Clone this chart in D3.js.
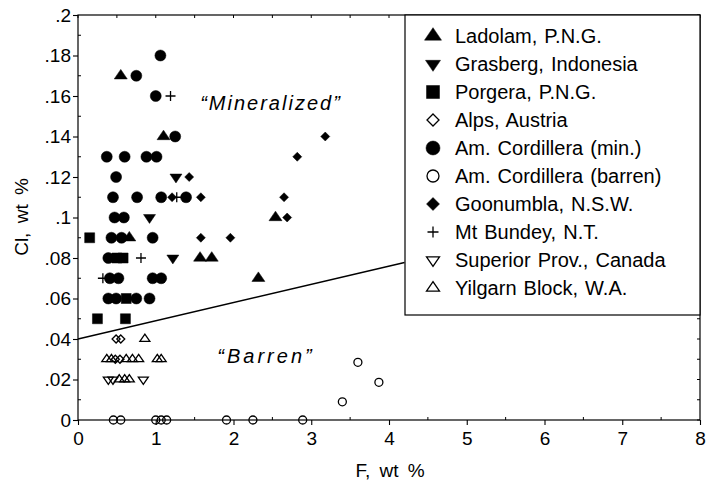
<!DOCTYPE html>
<html>
<head>
<meta charset="utf-8">
<script src="https://cdn.jsdelivr.net/npm/d3@7"></script>
<style>
  html, body { margin: 0; padding: 0; background: #fff; }
  svg { display: block; font-family: "Liberation Sans", Arial, Helvetica, sans-serif; }
</style>
</head>
<body>
<svg id="chart" width="706" height="485"></svg>
<script>
// F and Cl (wt %) of apatite, one array of [F, Cl] pairs per locality
const ladolam   = [[0.55,0.17],[1.10,0.14],[0.66,0.09],[2.54,0.10],[1.57,0.08],[1.72,0.08],[2.32,0.07]];
const grasberg  = [[1.26,0.12],[0.92,0.10],[1.22,0.08]];
const porgera   = [[0.15,0.09],[0.25,0.05],[0.61,0.05],[0.50,0.08],[0.58,0.08],[0.62,0.06]];
const alps      = [[0.49,0.04],[0.55,0.04],[0.48,0.03],[0.54,0.03]];
const amCordMin = [[1.06,0.18],[0.75,0.17],[1.00,0.16],[1.25,0.14],
                   [0.37,0.13],[0.60,0.13],[0.88,0.13],[1.01,0.13],
                   [0.49,0.12],
                   [0.45,0.11],[0.76,0.11],[1.07,0.11],[1.39,0.11],
                   [0.47,0.10],[0.59,0.10],
                   [0.43,0.09],[0.56,0.09],[0.96,0.09],
                   [0.39,0.08],
                   [0.41,0.07],[0.52,0.07],[0.96,0.07],[1.07,0.07],
                   [0.39,0.06],[0.49,0.06],[0.75,0.06],[0.92,0.06]];
const amCordBarren = [[0.455,0],[0.55,0],[1.00,0],[1.07,0],[1.14,0],[1.91,0],[2.25,0],[2.89,0],
                      [3.40,0.009],[3.60,0.0285],[3.87,0.0186]];
const goonumbla = [[3.18,0.14],[2.82,0.13],[1.43,0.12],[1.21,0.11],[1.58,0.11],[2.65,0.11],
                   [2.69,0.10],[1.58,0.09],[1.96,0.09]];
const mtBundey  = [[1.19,0.16],[1.27,0.11],[0.81,0.08],[0.32,0.07]];
const superior  = [[0.39,0.02],[0.45,0.02],[0.84,0.02]];
const yilgarn   = [[0.86,0.04],[0.37,0.03],[0.43,0.03],[0.62,0.03],[0.70,0.03],[0.78,0.03],
                   [1.02,0.03],[1.07,0.03],[0.53,0.02],[0.60,0.02],[0.66,0.02]];

// dividing line between mineralized and barren fields
const boundary = [[0, 0.04], [4.2, 0.0778]];

const xTicks = [0, 1, 2, 3, 4, 5, 6, 7, 8];
const yTicks = [0, 0.02, 0.04, 0.06, 0.08, 0.1, 0.12, 0.14, 0.16, 0.18, 0.2];
const yTickLabels = ["0", ".02", ".04", ".06", ".08", ".1", ".12", ".14", ".16", ".18", ".2"];

const seriesNames = ["Ladolam, P.N.G.", "Grasberg, Indonesia", "Porgera, P.N.G.", "Alps, Austria",
  "Am. Cordillera (min.)", "Am. Cordillera (barren)", "Goonumbla, N.S.W.", "Mt Bundey, N.T.",
  "Superior Prov., Canada", "Yilgarn Block, W.A."];

// ---- symbol types for d3.symbol (size = span in px, squared) ----
const triUp = { draw(c, s) { const r = Math.sqrt(s) / 2, h = r * 1.73 * 0.85;
  c.moveTo(0, -h * 2 / 3); c.lineTo(r, h / 3); c.lineTo(-r, h / 3); c.closePath(); } };
const triDown = { draw(c, s) { const r = Math.sqrt(s) / 2, h = r * 1.73 * 0.85;
  c.moveTo(0, h * 2 / 3); c.lineTo(r, -h / 3); c.lineTo(-r, -h / 3); c.closePath(); } };
const square = { draw(c, s) { const r = Math.sqrt(s) / 2; c.rect(-r, -r, 2 * r, 2 * r); } };
const diamond = { draw(c, s) { const r = Math.sqrt(s) / 2;
  c.moveTo(0, -r); c.lineTo(r, 0); c.lineTo(0, r); c.lineTo(-r, 0); c.closePath(); } };
const circle = { draw(c, s) { const r = Math.sqrt(s) / 2; c.moveTo(r, 0); c.arc(0, 0, r, 0, 2 * Math.PI); } };
const plus = { draw(c, s) { const r = Math.sqrt(s) / 2;
  c.moveTo(-r, 0); c.lineTo(r, 0); c.moveTo(0, -r); c.lineTo(0, r); } };

const series = [
  { name: seriesNames[0], data: ladolam,      type: triUp,   span: 13, legSpan: 17, filled: true },
  { name: seriesNames[1], data: grasberg,     type: triDown, span: 12, legSpan: 15, filled: true },
  { name: seriesNames[2], data: porgera,      type: square,  span: 10, legSpan: 13, filled: true },
  { name: seriesNames[3], data: alps,         type: diamond, span: 8,  legSpan: 12, filled: false },
  { name: seriesNames[4], data: amCordMin,    type: circle,  span: 11, legSpan: 14, filled: true },
  { name: seriesNames[5], data: amCordBarren, type: circle,  span: 8,  legSpan: 12, filled: false },
  { name: seriesNames[6], data: goonumbla,    type: diamond, span: 9,  legSpan: 13, filled: true },
  { name: seriesNames[7], data: mtBundey,     type: plus,    span: 10, legSpan: 11, filled: false },
  { name: seriesNames[8], data: superior,     type: triDown, span: 10, legSpan: 13, filled: false },
  { name: seriesNames[9], data: yilgarn,      type: triUp,   span: 10, legSpan: 13, filled: false }
];

const svg = d3.select("#chart");
const x = d3.scaleLinear().domain([0, 8]).range([78, 700]);
const y = d3.scaleLinear().domain([0, 0.2]).range([420, 15]);

// plot frame
svg.append("rect")
  .attr("x", x(0)).attr("y", y(0.2))
  .attr("width", x(8) - x(0)).attr("height", y(0) - y(0.2))
  .attr("fill", "none").attr("stroke", "#000").attr("stroke-width", 1.2);

// axes
const xAxis = svg.append("g").attr("transform", `translate(0,${y(0)})`)
  .call(d3.axisBottom(x).tickValues(xTicks).tickFormat(d3.format("d")).tickSize(5).tickPadding(7));
const yAxis = svg.append("g").attr("transform", `translate(${x(0)},0)`)
  .call(d3.axisLeft(y).tickValues(yTicks).tickFormat((d, i) => yTickLabels[i]).tickSize(5).tickPadding(2));
[xAxis, yAxis].forEach(g => {
  g.select(".domain").remove();
  g.selectAll(".tick line").attr("stroke", "#000").attr("stroke-width", 1.1);
  g.selectAll(".tick text").attr("fill", "#000").style("font-size", "19px")
    .style("font-family", "'Liberation Sans', Arial, sans-serif");
});

// minor ticks inside the frame, and mirrored major ticks on top/right
const xMinor = d3.range(0.5, 8, 1);
const yMinor = d3.range(0.01, 0.2, 0.02);
const tickG = svg.append("g").attr("stroke", "#000").attr("stroke-width", 1);
tickG.selectAll(".xm").data(xMinor).join("line")
  .attr("x1", d => x(d)).attr("x2", d => x(d)).attr("y1", y(0)).attr("y2", y(0) - 3);
tickG.selectAll(".xt").data(xTicks.concat(xMinor)).join("line")
  .attr("x1", d => x(d)).attr("x2", d => x(d)).attr("y1", y(0.2)).attr("y2", y(0.2) + 3);
tickG.selectAll(".ym").data(yMinor).join("line")
  .attr("x1", x(0)).attr("x2", x(0) + 3).attr("y1", d => y(d)).attr("y2", d => y(d));
tickG.selectAll(".yr").data(yTicks.concat(yMinor)).join("line")
  .attr("x1", x(8)).attr("x2", x(8) - 3).attr("y1", d => y(d)).attr("y2", d => y(d));

// axis titles
svg.append("text").attr("x", 390).attr("y", 477).attr("text-anchor", "middle")
  .style("font-size", "19px").style("word-spacing", "4px").text("F, wt %");
svg.append("text").attr("transform", "translate(28,217) rotate(-90)").attr("text-anchor", "middle")
  .style("font-size", "19px").style("word-spacing", "4px").text("Cl, wt %");

// boundary line
svg.append("path").datum(boundary)
  .attr("d", d3.line().x(d => x(d[0])).y(d => y(d[1])))
  .attr("fill", "none").attr("stroke", "#000").attr("stroke-width", 1.4);

// field labels
svg.append("text").attr("x", 271).attr("y", 110).attr("text-anchor", "middle")
  .style("font-size", "20px").style("font-style", "italic").style("letter-spacing", "2px")
  .text("\u201CMineralized\u201D");
svg.append("text").attr("x", 266).attr("y", 363).attr("text-anchor", "middle")
  .style("font-size", "20px").style("font-style", "italic").style("letter-spacing", "3px")
  .text("\u201CBarren\u201D");

// data points
series.forEach(s => {
  const sym = d3.symbol().type(s.type).size(s.span * s.span);
  svg.append("g").selectAll("path").data(s.data).join("path")
    .attr("transform", d => `translate(${x(d[0])},${y(d[1])})`)
    .attr("d", sym)
    .attr("fill", s.filled ? "#000" : "none")
    .attr("stroke", "#000")
    .attr("stroke-width", s.filled ? 0.5 : 1.3);
});

// legend
const legend = svg.append("g");
legend.append("rect").attr("x", 405).attr("y", 15).attr("width", x(8) - 405).attr("height", 300)
  .attr("fill", "#fff").attr("stroke", "#000").attr("stroke-width", 1.2);
const rowY = i => 36 + i * 28;
series.forEach((s, i) => {
  legend.append("path")
    .attr("transform", `translate(433,${rowY(i)})`)
    .attr("d", d3.symbol().type(s.type).size(s.legSpan * s.legSpan))
    .attr("fill", s.filled ? "#000" : "none")
    .attr("stroke", "#000").attr("stroke-width", s.filled ? 0.5 : 1.3);
  legend.append("text").attr("x", 455).attr("y", rowY(i)).attr("dy", "0.36em")
    .style("font-size", "20px").style("word-spacing", "1.5px").text(s.name);
});
</script>
</body>
</html>
